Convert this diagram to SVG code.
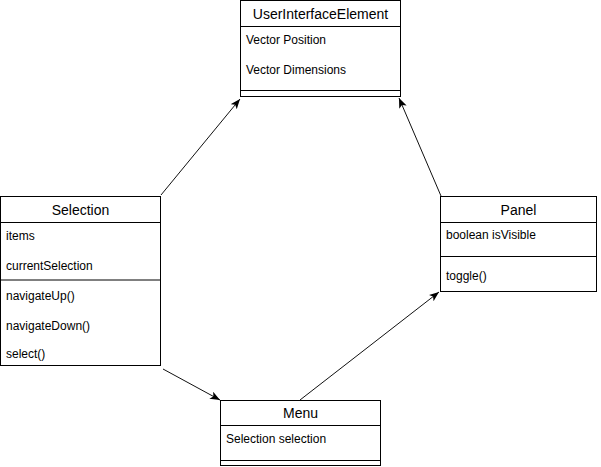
<svg xmlns="http://www.w3.org/2000/svg" width="601" height="467" viewBox="0 0 601 467">
  <style>
    .box { fill: #ffffff; stroke: #000000; stroke-width: 1; }
    .div { stroke: #000000; stroke-width: 1; }
    .title { font-family: "Liberation Sans", Arial, sans-serif; font-size: 14px; fill: #000000; text-anchor: middle; }
    .row { font-family: "Liberation Sans", Arial, sans-serif; font-size: 12px; fill: #000000; }
    .edge { fill: none; stroke: #111111; stroke-width: 1; }
  </style>
  <defs>
    <marker id="arrow" markerUnits="userSpaceOnUse" markerWidth="11" markerHeight="9" refX="10" refY="4" orient="auto">
      <path d="M0,0 L10,4 L0,8 L2.5,4 Z" fill="#000000"/>
    </marker>
  </defs>

  <!-- class: UserInterfaceElement -->
  <g id="user-interface-element">
    <rect class="box" x="240.5" y="0.5" width="160" height="96"/>
    <line class="div" x1="240.5" y1="26.5" x2="400.5" y2="26.5"/>
    <line class="div" x1="240.5" y1="90.5" x2="400.5" y2="90.5"/>
    <text class="title" x="320.5" y="18.5">UserInterfaceElement</text>
    <text class="row" x="246" y="44">Vector Position</text>
    <text class="row" x="246" y="74">Vector Dimensions</text>
  </g>

  <!-- class: Selection -->
  <g id="selection">
    <rect class="box" x="0.5" y="196.5" width="160" height="169"/>
    <line class="div" x1="0.5" y1="222.5" x2="160.5" y2="222.5"/>
    <line x1="0.5" y1="280" x2="160.5" y2="280" stroke="#000000" stroke-width="1"/>
    <text class="title" x="80.5" y="215">Selection</text>
    <text class="row" x="6" y="240">items</text>
    <text class="row" x="6" y="270">currentSelection</text>
    <text class="row" x="6" y="300">navigateUp()</text>
    <text class="row" x="6" y="330">navigateDown()</text>
    <text class="row" x="6" y="358">select()</text>
  </g>

  <!-- class: Panel -->
  <g id="panel">
    <rect class="box" x="440.5" y="196.5" width="156" height="95"/>
    <line class="div" x1="440.5" y1="222.5" x2="596.5" y2="222.5"/>
    <line class="div" x1="440.5" y1="256.5" x2="596.5" y2="256.5"/>
    <text class="title" x="518.5" y="215">Panel</text>
    <text class="row" x="446" y="239">boolean isVisible</text>
    <text class="row" x="446" y="280">toggle()</text>
  </g>

  <!-- class: Menu -->
  <g id="menu">
    <rect class="box" x="220.5" y="400.5" width="160" height="65"/>
    <line class="div" x1="220.5" y1="425.5" x2="380.5" y2="425.5"/>
    <line class="div" x1="220.5" y1="460.5" x2="380.5" y2="460.5"/>
    <text class="title" x="300.5" y="418">Menu</text>
    <text class="row" x="226" y="443">Selection selection</text>
  </g>

  <!-- associations -->
  <g id="connectors">
    <line class="edge" x1="161" y1="195" x2="240" y2="99" marker-end="url(#arrow)"/>
    <line class="edge" x1="441" y1="196" x2="399" y2="98" marker-end="url(#arrow)"/>
    <line class="edge" x1="163" y1="369" x2="220" y2="400" marker-end="url(#arrow)"/>
    <line class="edge" x1="300" y1="400" x2="439" y2="292" marker-end="url(#arrow)"/>
  </g>
</svg>
